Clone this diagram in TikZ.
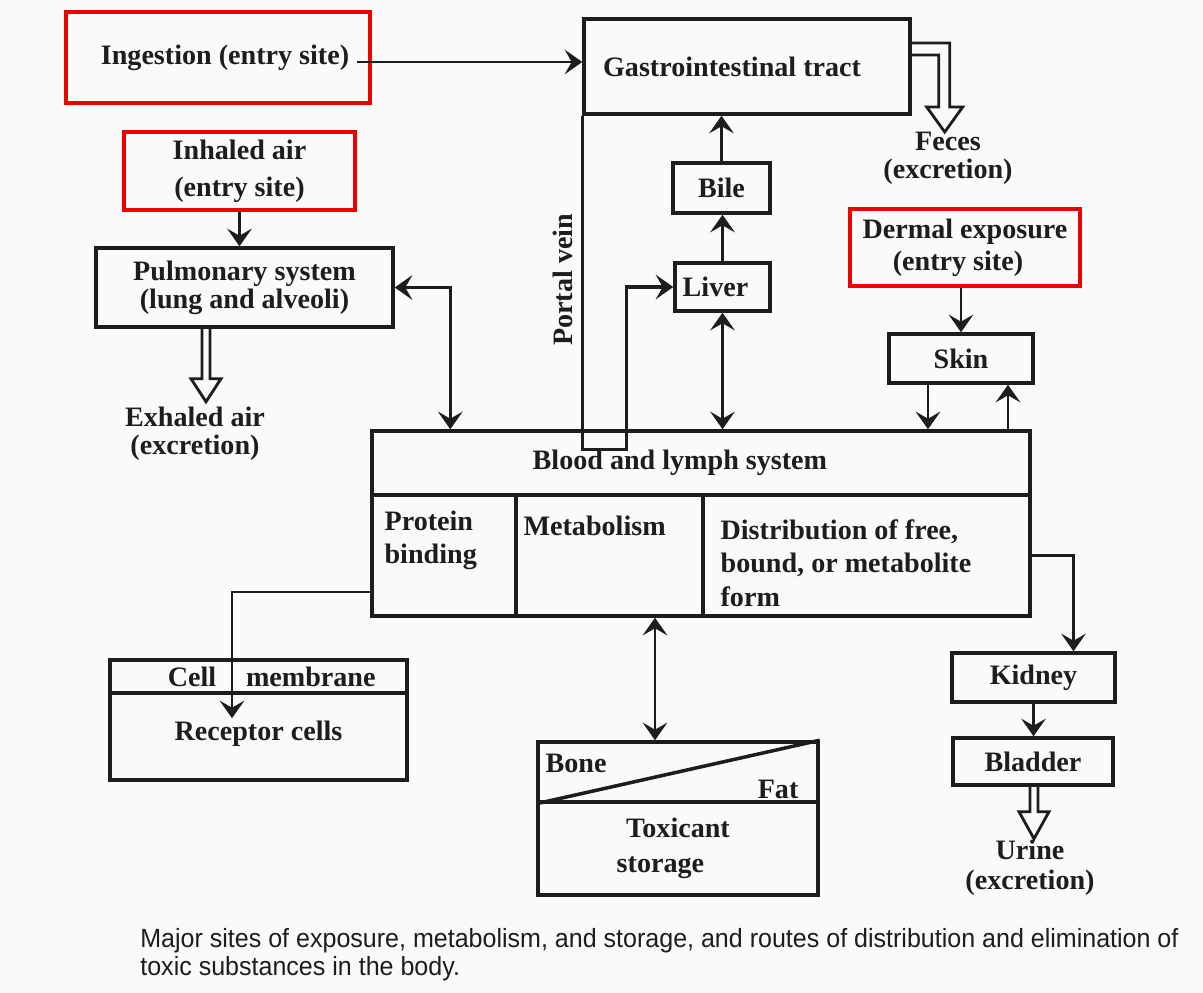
\documentclass[tikz,border=0pt]{standalone}
\usepackage{fontspec}
\setmainfont{Liberation Serif}
\newfontfamily\capfont[FakeStretch=0.95]{Liberation Sans}
\usetikzlibrary{arrows.meta}

\definecolor{ink}{RGB}{30,28,28}
\definecolor{mark}{RGB}{236,0,0}
\definecolor{paper}{RGB}{250,250,250}

\tikzset{
  box/.style={draw=ink, line width=2pt, inner sep=0pt, text=ink, align=center,
    font=\fontsize{16}{18}\selectfont\bfseries},
  entry/.style={box, draw=mark, line width=2.4pt},
  txt/.style={text=ink, inner sep=0pt, align=center,
    font=\fontsize{16}{18}\selectfont\bfseries},
  celltext/.style={txt, align=left, anchor=north west},
  arr/.style={draw=ink, line width=1.6pt, -{Stealth[length=10pt,width=14pt,inset=4pt]}},
  darr/.style={draw=ink, line width=1.6pt,
    {Stealth[length=10pt,width=14pt,inset=4pt]}-{Stealth[length=10pt,width=14pt,inset=4pt]}},
  hollow/.style={draw=ink, line width=1.6pt, line join=miter},
}

\begin{document}
\begin{tikzpicture}[x=0.02cm, y=-0.02cm]
\useasboundingbox (0,0) rectangle (1203,993);
\fill[paper] (0,0) rectangle (1203,993);

% entry sites
\node[entry, minimum width=6.08cm, minimum height=1.82cm] (ingest) at (218,57.5) {\hspace*{8pt}Ingestion (entry site)};
\node[entry, minimum width=4.62cm, minimum height=1.56cm] (inhale) at (239.5,171) {Inhaled air\\[3pt](entry site)};
\node[entry, minimum width=4.6cm, minimum height=1.54cm] (dermal) at (965,247.5) {Dermal exposure\\(entry site)\hspace*{8pt}};

% organs
\node[box, minimum width=6.52cm, minimum height=1.9cm] (gi) at (747,66.5) {Gastrointestinal tract\hspace*{17pt}};
\node[box, minimum width=1.94cm, minimum height=1cm] (bile) at (721.5,188) {Bile};
\node[box, minimum width=1.9cm, minimum height=0.96cm] (liver) at (722.5,287) {Liver\hspace*{8pt}};
\node[box, minimum width=5.94cm, minimum height=1.58cm] (pulm) at (244.5,287.5) {Pulmonary system\\[-2pt](lung and alveoli)};
\node[box, minimum width=2.88cm, minimum height=0.98cm] (skin) at (961,358.5) {Skin};

% blood and lymph system
\node[box, minimum width=13.16cm, minimum height=1.28cm] (blood) at (701,463) {Blood and lymph system\hspace*{24pt}};
\node[box, minimum width=2.88cm, minimum height=2.42cm,
  label={[celltext, xshift=0.28cm, yshift=-0.34cm]north west:{Protein\\[1pt]binding}}] (prot) at (444,555.5) {};
\node[box, minimum width=3.74cm, minimum height=2.42cm,
  label={[celltext, xshift=0.18cm, yshift=-0.44cm]north west:{Metabolism}}] (metab) at (609.5,555.5) {};
\node[box, minimum width=6.54cm, minimum height=2.42cm,
  label={[celltext, xshift=0.38cm, yshift=-0.52cm]north west:{Distribution of free,\\[1pt]bound, or metabolite\\[1pt]form}}] (dist) at (866.5,555.5) {};

% receptor cells
\node[box, minimum width=5.94cm, minimum height=0.66cm] (memb) at (258.5,676.5) {\hspace*{15pt}Cell\hspace{17pt}membrane};
\node[box, minimum width=5.94cm, minimum height=1.74cm] (recep) at (258.5,736.5) {\\[-10pt]Receptor cells};

% storage
\node[box, minimum width=5.6cm, minimum height=1.2cm,
  label={[celltext, xshift=0.18cm, yshift=-0.26cm]north west:{Bone}},
  label={[txt, anchor=south east, xshift=-0.42cm, yshift=0.1cm]south east:{Fat}}] (bonefat) at (678,772) {};
\draw[ink, line width=2pt] (bonefat.south west) -- (bonefat.north east);
\node[box, minimum width=5.6cm, minimum height=1.86cm] (store) at (678,848.5) {Toxicant\\[2pt]storage\hspace*{20pt}};

% urinary route
\node[box, minimum width=3.26cm, minimum height=0.98cm] (kidney) at (1033.5,677.5) {Kidney};
\node[box, minimum width=3.2cm, minimum height=0.94cm] (bladder) at (1033,761.5) {Bladder};

% excretion texts
\node[txt] (feces) at (948,158) {Feces\\[-2pt](excretion)};
\node[txt] (exhaled) at (195,434) {Exhaled air\\[-2pt](excretion)};
\node[txt] (urine) at (1030,868) {Urine\\[-1pt](excretion)};
\node[txt, rotate=90] (portal) at (563,280) {Portal vein};

% connectors
\draw[arr] ([shift={(-15,4.5)}]ingest.east) coordinate (i1) -- (i1 -| gi.west);
\draw[arr] (inhale.south) -- (inhale.south |- pulm.north);
\draw[darr] (pulm.east) -| ([xshift=1.6cm]blood.north west);
\draw[arr, line width=1.8pt] (gi.south west) -- ++(0,334) -- ++(44,0) |- (liver.west);
\draw[arr] (liver.north) -- (liver.north |- bile.south);
\draw[arr] (bile.north) -- (bile.north |- gi.south);
\draw[darr] (liver.south) -- (liver.south |- blood.north);
\draw[arr] (dermal.south -| skin.north) -- (skin.north);
\coordinate (s1) at ([xshift=-0.66cm]skin.south);
\coordinate (s2) at ([xshift=0.94cm]skin.south);
\draw[arr] (s1) -- (s1 |- blood.north);
\draw[arr] (s2 |- blood.north) -- (s2);
\draw[arr] (dist.east) -| ([xshift=0.8cm]kidney.north);
\draw[arr] (kidney.south) -- (kidney.south |- bladder.north);
\coordinate (s3) at ([xshift=-0.46cm]bonefat.north);
\draw[darr] (s3 |- metab.south) -- (s3);
\draw[arr] ([yshift=-0.73cm]prot.west) -| ([xshift=-0.53cm,yshift=-0.54cm]recep.north);

% hollow excretion arrows
\draw[hollow] ([yshift=0.47cm]gi.east) -- ++(38,0) -- ++(0,64) -- ++(13,0) -- ++(-18,25)
  -- ++(-18,-25) -- ++(12,0) -- ++(0,-52) -- ++(-27,0);
\draw[hollow] ([xshift=-0.85cm]pulm.south) -- ++(0,50) -- ++(-11,0) -- ++(15,23) -- ++(15,-23)
  -- ++(-11,0) -- ++(0,-50);
\draw[hollow] ([xshift=-0.06cm]bladder.south) -- ++(0,25) -- ++(-11,0) -- ++(15,27) -- ++(15,-27)
  -- ++(-11,0) -- ++(0,-25);

% caption
\node[anchor=north west, inner sep=0pt, align=left, text=ink,
  font=\capfont\fontsize{15}{16}\selectfont] (caption) at (140,928)
  {Major sites of exposure, metabolism, and storage, and routes of distribution and elimination of\\
   toxic substances in the body.};
\end{tikzpicture}
\end{document}
